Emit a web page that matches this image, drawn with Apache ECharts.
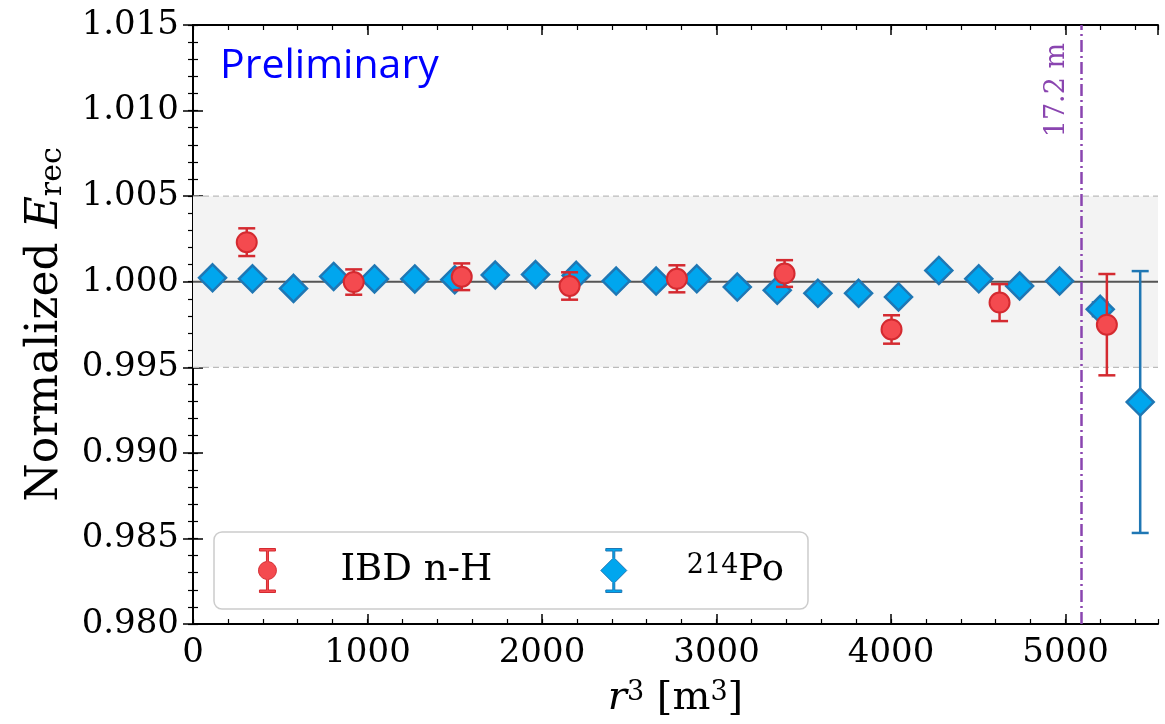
<!DOCTYPE html>
<html>
<head>
<meta charset="utf-8">
<script src="https://cdn.jsdelivr.net/npm/echarts@6/dist/echarts.min.js"></script>
<style>
html,body{margin:0;padding:0;background:#fff;}
#chart{width:1165px;height:724px;}
</style>
</head>
<body>
<div id="chart"></div>
<script>
// ---- data ----
const ibdX   = [308, 921, 1540, 2158, 2773, 3390, 4003, 4622, 5237];
const ibdY   = [1.00231, 0.99998, 1.00029, 0.99975, 1.00017, 1.00048, 0.99721, 0.99878, 0.99749];
const ibdErr = [0.00081, 0.00074, 0.00078, 0.00080, 0.00079, 0.00078, 0.00083, 0.00108, 0.00296];

const poX   = [112, 341, 576, 806, 1040, 1271, 1500, 1732, 1963, 2196, 2425, 2654,
               2887, 3119, 3348, 3581, 3814, 4043, 4274, 4503, 4737, 4966, 5199, 5428];
const poY   = [1.00023, 1.00017, 0.99961, 1.00031, 1.00016, 1.00016, 1.00012, 1.00039,
               1.00042, 1.00037, 1.00004, 1.00004, 1.00017, 0.99969, 0.99950, 0.99932,
               0.99932, 0.99911, 1.00066, 1.00017, 0.99975, 1.00004, 0.99839, 0.99297];
const poErr = [0.0003, 0.0003, 0.0003, 0.0003, 0.0003, 0.0003, 0.0003, 0.0003,
               0.0003, 0.0003, 0.0003, 0.0003, 0.0003, 0.0003, 0.0003, 0.0003,
               0.0003, 0.0003, 0.0003, 0.0003, 0.0003, 0.0003, 0.0004, 0.00765];

const bandLow = 0.995, bandHigh = 1.005, refLine = 1.0;
const fiducialR3 = 5088;          // (17.2 m)^3
const fiducialLabel = '17.2 m';
const xMin = 0, xMax = 5530, xStep = 1000, xMinorStep = 200;
const yMin = 0.980, yMax = 1.015, yStep = 0.005, yMinorStep = 0.001;

// ---- styles ----
const serif = 'DejaVu Serif';
const redFill = '#f44a4f', redEdge = '#d42a30';
const blueFill = '#00a6ee', blueEdge = '#1f77b4';
const purple = '#8a45b0';

const ibdData = ibdX.map((x, i) => [x, ibdY[i], ibdErr[i]]);
const poData  = poX.map((x, i) => [x, poY[i], poErr[i]]);

function errRender(color, capHalf, lw) {
  return function (params, api) {
    const x = api.value(0), y = api.value(1), e = api.value(2);
    const t = api.coord([x, y + e]);
    const b = api.coord([x, y - e]);
    const style = { stroke: color, lineWidth: lw, fill: null };
    return {
      type: 'group',
      children: [
        { type: 'line', shape: { x1: t[0], y1: t[1], x2: b[0], y2: b[1] }, style },
        { type: 'line', shape: { x1: t[0] - capHalf, y1: t[1], x2: t[0] + capHalf, y2: t[1] }, style },
        { type: 'line', shape: { x1: b[0] - capHalf, y1: b[1], x2: b[0] + capHalf, y2: b[1] }, style }
      ]
    };
  };
}

const redIcon = 'path://M5,0 L21,0 L21,2.5 L14,2.5 L14,13.06 A9,9 0 0,1 14,30.94 L14,41.5 L21,41.5 L21,44 L5,44 L5,41.5 L12,41.5 L12,30.94 A9,9 0 0,1 12,13.06 L12,2.5 L5,2.5 Z';
const blueIcon = 'path://M5,0 L21,0 L21,2.5 L14,2.5 L14,10 L26,22 L14,34 L14,41.5 L21,41.5 L21,44 L5,44 L5,41.5 L12,41.5 L12,34 L0,22 L12,10 L12,2.5 L5,2.5 Z';

function majorAxis(min, max, step, position) {
  return {
    type: 'value', min, max, interval: step, position,
    axisLine: { show: true, lineStyle: { color: '#000', width: 2 } },
    axisTick: { show: true, inside: true, length: 10, lineStyle: { color: '#000', width: 1.5 } },
    axisLabel: { show: false },
    splitLine: { show: false }
  };
}
function minorAxis(min, max, step, position) {
  return {
    type: 'value', min, max, interval: step, position,
    axisLine: { show: false },
    axisTick: { show: true, inside: true, length: 5, lineStyle: { color: '#000', width: 1.2 } },
    axisLabel: { show: false },
    splitLine: { show: false }
  };
}

const xBottom = majorAxis(xMin, xMax, xStep, 'bottom');
xBottom.axisLabel = {
  show: true, margin: 12, showMaxLabel: false,
  fontFamily: serif, fontSize: 34, color: '#000',
  formatter: v => String(v)
};
xBottom.name = '{it|r}{sup|3}{n| [m}{sup|3}{n|]}';
xBottom.nameLocation = 'middle';
xBottom.nameGap = 55;
xBottom.nameTextStyle = {
  fontFamily: serif, fontSize: 40, color: '#000',
  rich: {
    it: { fontFamily: serif, fontSize: 40, fontStyle: 'italic', verticalAlign: 'bottom' },
    n: { fontFamily: serif, fontSize: 40, verticalAlign: 'bottom' },
    sup: { fontFamily: serif, fontSize: 27, verticalAlign: 'top' }
  }
};

const yLeft = majorAxis(yMin, yMax, yStep, 'left');
yLeft.axisLabel = {
  show: true, margin: 14,
  fontFamily: serif, fontSize: 34, color: '#000',
  formatter: v => v.toFixed(3)
};
yLeft.name = '{n|Normalized }{it|E}{sub|rec}';
yLeft.nameLocation = 'middle';
yLeft.nameRotate = 90;
yLeft.nameGap = 125;
yLeft.nameTextStyle = {
  fontFamily: serif, fontSize: 44, color: '#000',
  rich: {
    n: { fontFamily: serif, fontSize: 44, verticalAlign: 'bottom' },
    it: { fontFamily: serif, fontSize: 44, fontStyle: 'italic', verticalAlign: 'bottom' },
    sub: { fontFamily: serif, fontSize: 30, verticalAlign: 'bottom', lineHeight: 16 }
  }
};

const chart = echarts.init(document.getElementById('chart'), null, { renderer: 'canvas' });
chart.setOption({
  animation: false,
  backgroundColor: '#fff',
  grid: { left: 193, right: 7, top: 25, bottom: 96, containLabel: false },
  xAxis: [
    xBottom,
    majorAxis(xMin, xMax, xStep, 'top'),
    minorAxis(xMin, xMax, xMinorStep, 'bottom'),
    minorAxis(xMin, xMax, xMinorStep, 'top')
  ],
  yAxis: [
    yLeft,
    majorAxis(yMin, yMax, yStep, 'right'),
    minorAxis(yMin, yMax, yMinorStep, 'left'),
    minorAxis(yMin, yMax, yMinorStep, 'right')
  ],
  legend: {
    data: [
      { name: 'IBD n-H', icon: redIcon },
      { name: '214Po', icon: blueIcon }
    ],
    left: 214, top: 532,
    orient: 'horizontal',
    itemWidth: 26, itemHeight: 44, itemGap: 108,
    padding: [16, 24, 16, 44],
    backgroundColor: 'rgba(255,255,255,0.9)',
    borderColor: '#cccccc', borderWidth: 1.5, borderRadius: 8,
    selectedMode: false,
    itemStyle: { borderWidth: 1 },
    formatter: function (name) {
      return name === '214Po' ? '{sup|214}{b|Po}' : '{b|IBD n-H}';
    },
    textStyle: {
      fontFamily: serif, fontSize: 37, color: '#000',
      padding: [0, 0, 0, 55],
      rich: {
        b: { fontFamily: serif, fontSize: 37, color: '#000', verticalAlign: 'bottom' },
        sup: { fontFamily: serif, fontSize: 27, color: '#000', verticalAlign: 'top' }
      }
    }
  },
  graphic: [
    {
      type: 'text', left: 220, top: 46, z: 20,
      style: { text: 'Preliminary', font: '41px "Open Sans"', fill: '#0000ff' }
    }
  ],
  series: [
    {
      name: 'bandLowLine', type: 'line', z: 1, silent: true, symbol: 'none',
      lineStyle: { color: '#bbbbbb', type: [6, 4], width: 1.2 },
      data: [[xMin, bandLow], [xMax, bandLow]],
      markArea: {
        silent: true,
        itemStyle: { color: '#f3f3f3' },
        data: [[{ yAxis: bandLow }, { yAxis: bandHigh }]]
      }
    },
    {
      name: 'bandHighLine', type: 'line', z: 1, silent: true, symbol: 'none',
      lineStyle: { color: '#bbbbbb', type: [6, 4], width: 1.2 },
      data: [[xMin, bandHigh], [xMax, bandHigh]]
    },
    {
      name: 'refLine', type: 'line', z: 1, silent: true, symbol: 'none',
      lineStyle: { color: '#555555', type: 'solid', width: 2 },
      data: [[xMin, refLine], [xMax, refLine]],
      markLine: {
        silent: true, symbol: ['none', 'none'],
        data: [
          {
            xAxis: fiducialR3,
            lineStyle: { color: purple, type: [12, 4, 2, 4], width: 2.5 },
            label: {
              show: true, formatter: fiducialLabel, position: 'insideEndTop',
              color: purple, fontFamily: serif, fontSize: 27, distance: [18, 10]
            }
          }
        ]
      }
    },
    {
      name: 'poErr', type: 'custom', z: 2, silent: true,
      renderItem: errRender(blueEdge, 8.5, 2.5),
      encode: { x: 0, y: 1 },
      data: poData, clip: true
    },
    {
      name: '214Po', type: 'scatter', z: 3,
      symbol: 'diamond', symbolSize: 27, symbolKeepAspect: true,
      itemStyle: { color: blueFill, borderColor: blueEdge, borderWidth: 2.5, opacity: 1 },
      data: poData.map(d => [d[0], d[1]])
    },
    {
      name: 'ibdErr', type: 'custom', z: 4, silent: true,
      renderItem: errRender(redEdge, 8.5, 2.5),
      encode: { x: 0, y: 1 },
      data: ibdData, clip: true
    },
    {
      name: 'IBD n-H', type: 'scatter', z: 5,
      symbol: 'circle', symbolSize: 20, symbolKeepAspect: true,
      itemStyle: { color: redFill, borderColor: redEdge, borderWidth: 2, opacity: 1 },
      data: ibdData.map(d => [d[0], d[1]])
    }
  ]
});
</script>
</body>
</html>
